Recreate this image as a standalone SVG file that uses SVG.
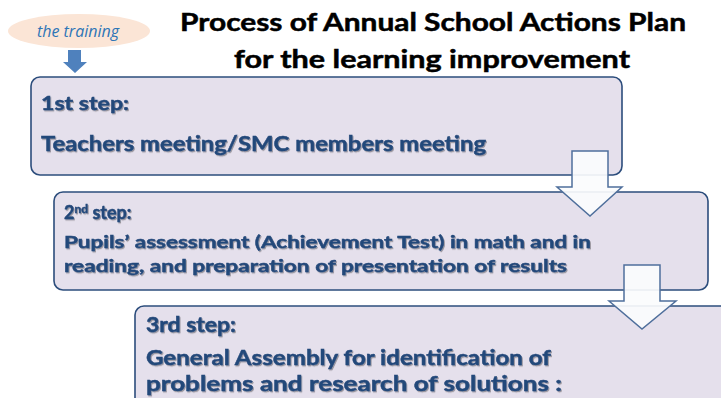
<svg xmlns="http://www.w3.org/2000/svg" width="721" height="398" viewBox="0 0 721 398">
<defs>
<style>
.box{fill:#e5e0ec;stroke:#2c4d7c;stroke-width:1.6}
.arr{fill:#fbfcfd;fill-opacity:0.92;stroke:#4f6f9c;stroke-width:1.5}
.t{font-family:Lato,"Open Sans","Liberation Sans",sans-serif;font-weight:bold;fill:#24487a;stroke:#24487a;stroke-width:0.45;filter:url(#sh)}
.title{font-family:Lato,"Open Sans","Liberation Sans",sans-serif;font-weight:bold;fill:#000;stroke:#000;stroke-width:0.5;font-size:25px}
</style>
<filter id="sh" x="-5%" y="-20%" width="110%" height="150%">
<feDropShadow dx="1" dy="1.2" stdDeviation="0.6" flood-color="#000" flood-opacity="0.35"/>
</filter>
</defs>
<rect width="721" height="398" fill="#fff"/>
<g id="title">
<text class="title" x="180" y="31" textLength="506" lengthAdjust="spacingAndGlyphs">Process of Annual School Actions Plan</text>
<text class="title" x="234" y="68" textLength="396" lengthAdjust="spacingAndGlyphs">for the learning improvement</text>
</g>
<g id="training">
<ellipse cx="79" cy="31" rx="71" ry="17" fill="#fbe5d6"/>
<text x="78" y="37" text-anchor="middle" font-family="'Open Sans','Noto Sans',sans-serif" font-style="italic" font-size="16" fill="#2e75b6">the training</text>
</g>
<g id="step1">
<rect class="box" x="31" y="77" width="591" height="98" rx="9"/>
<text class="t" x="41" y="110" font-size="19" textLength="88" lengthAdjust="spacingAndGlyphs">1st step:</text>
<text class="t" x="41" y="151" font-size="21" textLength="445" lengthAdjust="spacingAndGlyphs">Teachers meeting/SMC members meeting</text>
</g>
<g id="step2">
<rect class="box" x="54" y="192" width="654" height="98" rx="9"/>
<text class="t" x="64" y="219" font-size="18"><tspan>2</tspan><tspan font-size="12" dy="-6">nd</tspan><tspan dy="6"> step:</tspan></text>
<text class="t" x="64" y="248" font-size="17" textLength="527" lengthAdjust="spacingAndGlyphs">Pupils’ assessment (Achievement Test) in math and in</text>
<text class="t" x="64" y="272" font-size="17" textLength="503" lengthAdjust="spacingAndGlyphs">reading, and preparation of presentation of results</text>
</g>
<g id="step3">
<rect class="box" x="135" y="306" width="620" height="120" rx="9"/>
<text class="t" x="146" y="332" font-size="20" textLength="90" lengthAdjust="spacingAndGlyphs">3rd step:</text>
<text class="t" x="146" y="365" font-size="21" textLength="405" lengthAdjust="spacingAndGlyphs">General Assembly for identification of</text>
<text class="t" x="146" y="391" font-size="21" textLength="416" lengthAdjust="spacingAndGlyphs">problems and research of solutions :</text>
</g>
<g id="connectors">
<polygon points="68,50 81,50 81,62 87,62 75,73 63,62 68,62" fill="#4f81bd"/>
<polygon class="arr" points="572,151 608,151 608,187 622,187 590,216 557,187 572,187"/>
<polygon class="arr" points="624,265 660,265 660,301 676,301 642,329 609,301 624,301"/>
</g>
</svg>
